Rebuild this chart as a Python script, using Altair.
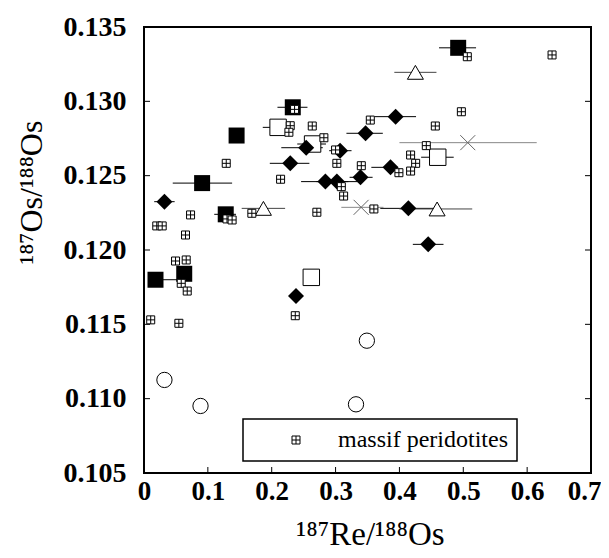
import altair as alt
import pandas as pd

# ---- data ----
fsq_x = [0.018, 0.063, 0.091, 0.128, 0.145, 0.233, 0.492]
fsq_y = [0.1180, 0.1184, 0.1245, 0.1224, 0.1277, 0.1296, 0.1336]
fsq_lo = [0.010, 0.055, 0.045, 0.110, 0.145, 0.209, 0.462]
fsq_hi = [0.055, 0.072, 0.138, 0.144, 0.145, 0.256, 0.520]

osq_x = [0.210, 0.264, 0.460, 0.262]
osq_y = [0.12825, 0.12713, 0.12624, 0.11816]
osq_lo = [0.186, 0.240, 0.434, 0.255]
osq_hi = [0.225, 0.285, 0.485, 0.270]

dia_x = [0.032, 0.229, 0.254, 0.307, 0.347, 0.394, 0.284, 0.302, 0.339, 0.386, 0.414, 0.445, 0.238]
dia_y = [0.12325, 0.12583, 0.12688, 0.12668, 0.12785, 0.12897, 0.12460, 0.12460,
         0.12489, 0.12556, 0.12280, 0.12038, 0.11691]
dia_lo = [0.016, 0.197, 0.215, 0.290, 0.317, 0.361, 0.246, 0.270, 0.322, 0.356, 0.370, 0.421, 0.232]
dia_hi = [0.048, 0.259, 0.280, 0.325, 0.374, 0.426, 0.320, 0.335, 0.358, 0.398, 0.460, 0.469, 0.245]

tri_x = [0.187, 0.425, 0.459]
tri_y = [0.12280, 0.13195, 0.12276]
tri_lo = [0.153, 0.392, 0.400]
tri_hi = [0.221, 0.458, 0.514]

crs_x = [0.340, 0.507]
crs_y = [0.12287, 0.12722]
crs_lo = [0.309, 0.400]
crs_hi = [0.375, 0.615]

cir_x = [0.032, 0.0885, 0.349, 0.332]
cir_y = [0.11126, 0.10951, 0.11390, 0.10962]
cir_lo = [0.032, 0.0885, 0.340, 0.332]
cir_hi = [0.032, 0.0885, 0.360, 0.332]

mas_x = [0.2358, 0.3544, 0.2290, 0.2269, 0.2635, 0.2817, 0.3000, 0.3020, 0.3403, 0.1288,
         0.2139, 0.3090, 0.3126, 0.0729, 0.1300, 0.1380, 0.1689, 0.2707, 0.0200, 0.0285,
         0.0650, 0.3600, 0.5063, 0.6390, 0.4970, 0.4562, 0.4421, 0.4175, 0.4254, 0.4175,
         0.3992, 0.0494, 0.0661, 0.0583, 0.0677, 0.0105, 0.0546, 0.2369]
mas_y = [0.12946, 0.12874, 0.12836, 0.12792, 0.12834, 0.12755, 0.12673, 0.12583, 0.12567, 0.12583,
         0.12476, 0.12426, 0.12363, 0.12236, 0.12209, 0.12202, 0.12247, 0.12254, 0.12162, 0.12162,
         0.12101, 0.12276, 0.13300, 0.13312, 0.12930, 0.12834, 0.12702, 0.12639, 0.12583, 0.12531,
         0.12520, 0.11926, 0.11933, 0.11776, 0.11724, 0.11530, 0.11507, 0.11558]
mas_label = "massif peridotites"

x_ticks = [0.1, 0.2, 0.3, 0.4, 0.5, 0.6]
y_ticks = [0.110, 0.115, 0.120, 0.125, 0.130]

W, H = 447, 446
FONT = "Liberation Serif"

xs = alt.Scale(domain=[0, 0.7], nice=False, zero=False)
ys = alt.Scale(domain=[0.105, 0.135], nice=False, zero=False)

def df(x, y, lo=None, hi=None):
    d = pd.DataFrame({"x": x, "y": y})
    if lo is not None:
        d["lo"] = lo
        d["hi"] = hi
    return d

X = alt.X("x:Q", scale=xs, title="¹⁸⁷Re/¹⁸⁸Os",
          axis=alt.Axis(values=[0, 0.1, 0.2, 0.3, 0.4, 0.5, 0.6, 0.7],
                        labelExpr="datum.value == 0 ? '0' : format(datum.value, '.1f')",
                        ticks=False, tickSize=0, domain=False, grid=False,
                        labelFlush=False, labelOverlap=False,
                        labelOffset={"condition": {"test": "datum.value > 0.65", "value": -7},
                                     "value": 0},
                        labelFont=FONT, labelFontWeight="bold", labelFontSize=27,
                        labelColor="black", labelPadding=5,
                        titleFont=FONT, titleFontWeight="normal", titleFontSize=33,
                        titleColor="black", titleX=226, titleY=71,
                        titleBaseline="alphabetic", titleAlign="center"))
Y = alt.Y("y:Q", scale=ys, title="¹⁸⁷Os/¹⁸⁸Os",
          axis=alt.Axis(values=[0.105, 0.110, 0.115, 0.120, 0.125, 0.130, 0.135],
                        format=".3f",
                        ticks=False, tickSize=0, domain=False, grid=False,
                        labelFlush=False, labelOverlap=False,
                        labelFont=FONT, labelFontWeight="bold", labelFontSize=28,
                        labelColor="black", labelPadding=18,
                        titleFont=FONT, titleFontWeight="normal", titleFontSize=32,
                        titleColor="black", titleX=-113, titleY=165, titleAngle=270,
                        titleAlign="center", titleBaseline="middle"))

def bars(d, color="black"):
    return alt.Chart(d).mark_rule(color=color, strokeWidth=1).encode(
        x=alt.X("lo:Q", scale=xs), x2="hi:Q", y=alt.Y("y:Q", scale=ys))

def pts(d, shape, size, filled, stroke="black", fill="white", sw=1):
    if filled:
        m = alt.Chart(d).mark_point(shape=shape, size=size, filled=True, color="black",
                                    opacity=1)
    else:
        m = alt.Chart(d).mark_point(shape=shape, size=size, filled=False, stroke=stroke,
                                    fill=fill, strokeWidth=sw, opacity=1, fillOpacity=1)
    return m.encode(x=alt.X("x:Q", scale=xs), y=alt.Y("y:Q", scale=ys))

d_fsq = df(fsq_x, fsq_y, fsq_lo, fsq_hi)
d_osq = df(osq_x, osq_y, osq_lo, osq_hi)
d_dia = df(dia_x, dia_y, dia_lo, dia_hi)
d_tri = df(tri_x, tri_y, tri_lo, tri_hi)
d_crs = df(crs_x, crs_y, crs_lo, crs_hi)
d_cir = df(cir_x, cir_y, cir_lo, cir_hi)
d_mas = pd.DataFrame({"x": mas_x, "y": mas_y, "label": [mas_label] * len(mas_x)})

base = alt.Chart(d_fsq).mark_point(opacity=0).encode(x=X, y=Y)

MAS_PATH = "M-1,-1H1V1H-1ZM0,-1V1M-1,0H1"
XPATH = "M-1,-1L1,1M1,-1L-1,1"

mas = alt.Chart(d_mas).mark_point(shape=MAS_PATH, size=64, filled=False, fill="white",
                                  fillOpacity=1, opacity=1, strokeWidth=1).encode(
    x=alt.X("x:Q", scale=xs), y=alt.Y("y:Q", scale=ys),
    stroke=alt.Stroke("label:N",
                      scale=alt.Scale(domain=[mas_label], range=["black"]),
                      legend=alt.Legend(title=None, orient="none", legendX=99, legendY=392,
                                        strokeColor="black", padding=9,
                                        symbolType=MAS_PATH, symbolSize=64,
                                        symbolFillColor="white", symbolStrokeWidth=1,
                                        symbolOffset=32, labelOffset=30,
                                        labelFont=FONT, labelFontSize=24,
                                        labelColor="black", labelLimit=400)))

x_tick_df = pd.DataFrame({"x": x_ticks})
y_tick_df = pd.DataFrame({"y": y_ticks})
tx = alt.Chart(x_tick_df).mark_rule(color="black", strokeWidth=1).encode(
    x=alt.X("x:Q", scale=xs), y=alt.value(H), y2=alt.value(H - 6))
tl = alt.Chart(y_tick_df).mark_rule(color="black", strokeWidth=1).encode(
    y=alt.Y("y:Q", scale=ys), x=alt.value(0), x2=alt.value(6))
tr = alt.Chart(y_tick_df).mark_rule(color="black", strokeWidth=1).encode(
    y=alt.Y("y:Q", scale=ys), x=alt.value(W), x2=alt.value(W - 6))

chart = alt.layer(
    base,
    bars(d_fsq), bars(d_osq), bars(d_dia), bars(d_tri, "#444"), bars(d_crs, "#888"),
    bars(d_cir),
    pts(d_osq, "square", 270, False),
    pts(d_tri, "triangle-up", 256, False),
    pts(d_cir, "circle", 234, False),
    pts(d_crs, XPATH, 225, False, stroke="#666", fill="transparent"),
    pts(d_fsq, "square", 256, True),
    pts(d_dia, "diamond", 256, True),
    mas,
    tx, tl, tr,
).properties(
    width=W, height=H,
    autosize=alt.AutoSizeParams(type="none"),
    padding={"left": 136, "top": 19, "right": 10, "bottom": 77},
).configure_view(
    stroke="black", strokeWidth=2
).configure_legend(
    strokeWidth=1.5
)

chart.save("out.html", embed_options={"renderer": "svg", "actions": False})
